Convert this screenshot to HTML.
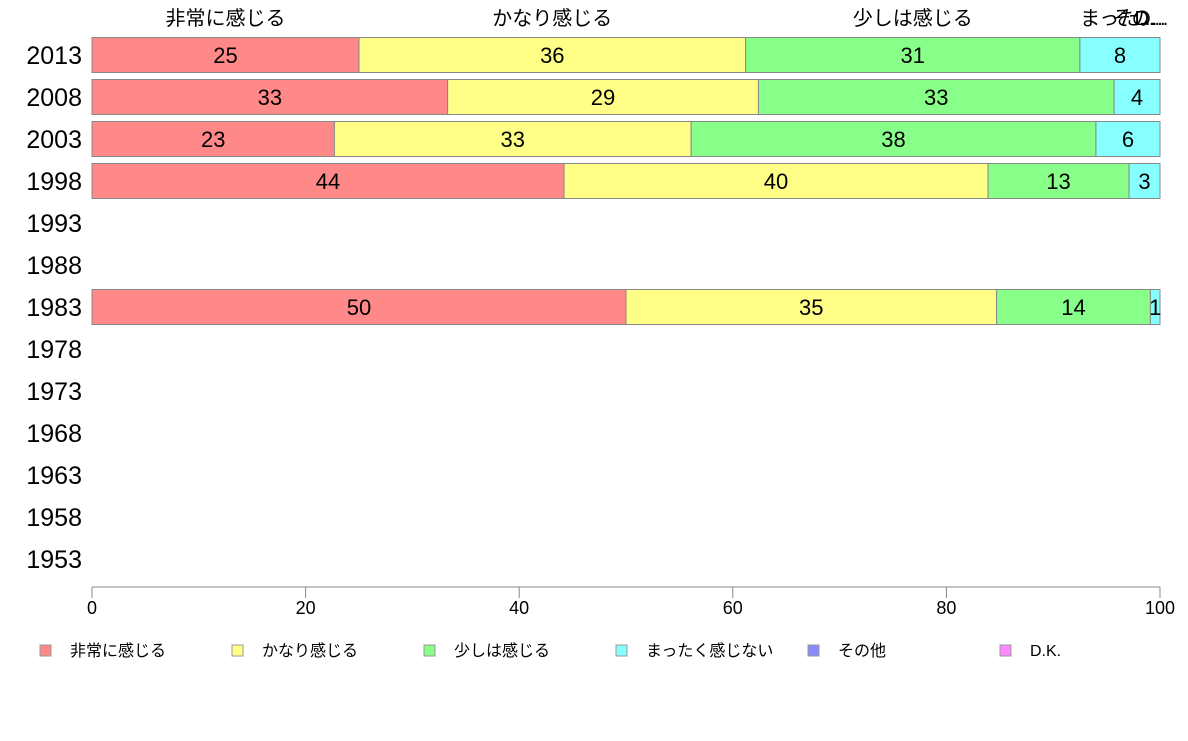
<!DOCTYPE html>
<html><head><meta charset="utf-8"><style>
body{margin:0;background:#fff;width:1188px;height:736px;overflow:hidden}
text{font-family:"Liberation Sans","Noto Sans CJK JP",sans-serif}
</style></head><body>
<svg id="chart" width="1188" height="736" xmlns="http://www.w3.org/2000/svg"></svg>
<script>
const years=["2013","2008","2003","1998","1993","1988","1983","1978","1973","1968","1963","1958","1953"];
const categories=["非常に感じる","かなり感じる","少しは感じる","まったく感じない","その他","D.K."];
const sHigh=[25.0,33.3,22.7,44.2,null,null,50.0,null,null,null,null,null,null];
const sFair=[36.2,29.1,33.4,39.7,null,null,34.7,null,null,null,null,null,null];
const sLittle=[31.3,33.3,37.9,13.2,null,null,14.4,null,null,null,null,null,null];
const sNone=[7.5,4.3,6.0,2.9,null,null,0.9,null,null,null,null,null,null];
const sOther=[0,0,0,0,null,null,0,null,null,null,null,null,null];
const sDK=[0,0,0,0,null,null,0,null,null,null,null,null,null];
const xTicks=[0,20,40,60,80,100];
const series=[sHigh,sFair,sLittle,sNone,sOther,sDK];
const colors=["#ff8888","#ffff88","#88ff88","#88ffff","#8888ff","#ff88ff"];
const NS="http://www.w3.org/2000/svg";
const svg=document.getElementById("chart");
const X0=92,X1=1160;
function xs(v){return X0+(X1-X0)*v/100;}
function yc(i){return 55+i*42;}
const BH=35;
function mk(tag,attrs,txt){const e=document.createElementNS(NS,tag);for(const k in attrs)e.setAttribute(k,attrs[k]);if(txt!==undefined)e.textContent=txt;svg.appendChild(e);return e;}
years.forEach((y,i)=>{
  const t=mk("text",{x:82,y:yc(i)+9,"text-anchor":"end","font-size":25,fill:"#000"},y);
  
  
  if(sHigh[i]===null)return;
  let acc=0;
  series.forEach((s,k)=>{
    const v=s[i];if(!v)return;
    const r=mk("rect",{x:xs(acc),y:yc(i)-BH/2,width:xs(acc+v)-xs(acc),height:BH,fill:colors[k],stroke:"#888","stroke-width":1});
    
    
    const lt=mk("text",{x:(xs(acc)+xs(acc+v))/2,y:yc(i)+8,"text-anchor":"middle","font-size":22,fill:"#000"},Math.round(v));
    
    
    acc+=v;
  });
});
// top labels from first row
const topLabels=["非常に感じる","かなり感じる","少しは感じる","まった...","その...","D..."];
let acc0=0;
series.forEach((s,k)=>{
  const v=s[0];const c=(xs(acc0)+xs(acc0+v))/2;acc0+=v;
  let cx=c; if(k===3)cx=1118; if(k===4)cx=1140; if(k===5)cx=1150;
  const t=mk("text",{x:cx,y:25,"text-anchor":"middle","font-size":20,fill:"#000"},topLabels[k]);
  
  
});
// axis
const ax=mk("line",{x1:X0,y1:587,x2:X1,y2:587,stroke:"#888","stroke-width":1});


xTicks.forEach(v=>{
  const l=mk("line",{x1:xs(v),y1:587,x2:xs(v),y2:598,stroke:"#888","stroke-width":1});
  
  
  const t=mk("text",{x:xs(v),y:614,"text-anchor":"middle","font-size":18,fill:"#000"},v);
  
  
});
// legend
const legX=[40,232,424,616,808,1000];
categories.forEach((c,k)=>{
  const r=mk("rect",{x:legX[k],y:645,width:11,height:11,fill:colors[k],stroke:"#999","stroke-width":1});
  
  
  const t=mk("text",{x:legX[k]+30,y:656,"font-size":16,fill:"#000"},c);
  
  
});
</script>
</body></html>
